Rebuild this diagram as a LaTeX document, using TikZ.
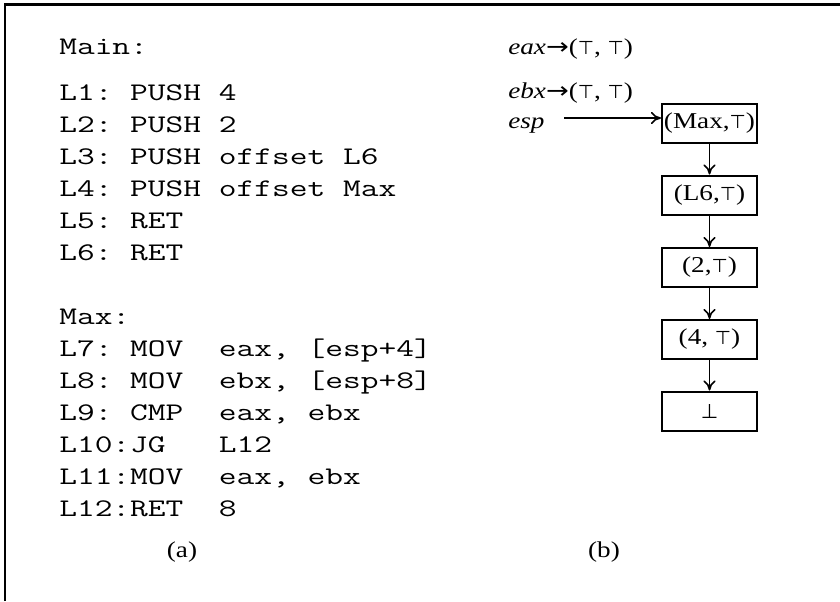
\documentclass[tikz,border=0pt]{standalone}
\usepackage{fontspec}
\usepackage{graphicx}
\setmainfont{Liberation Serif}[FakeStretch=1.2]
\newfontfamily\symfont{DejaVu Sans}
\usetikzlibrary{arrows.meta}

% lattice symbols and the mapping arrow
\newcommand{\topsym}{{\symfont\fontsize{14pt}{14pt}\selectfont ⊤}}
\newcommand{\botsym}{{\symfont\fontsize{15pt}{15pt}\selectfont ⊥}}
\newcommand{\mapsym}{{\symfont\scalebox{1.2}[1]{→}}}
% one line of the listing, in a widened typewriter face
\newcommand{\codeline}[1]{\scalebox{1.36}[1]{\ttfamily\fontsize{19pt}{20pt}\selectfont #1}}

\begin{document}
\begin{tikzpicture}[x=0.75pt,y=-0.75pt,
  code/.style={anchor=base west,inner sep=0pt},
  txt/.style={inner sep=0pt,font=\fontsize{17pt}{18pt}\selectfont},
  stackbox/.style={draw,line width=1.5pt,minimum width=71.25pt,
    minimum height=29.25pt,inner sep=0pt,
    font=\fontsize{17pt}{18pt}\selectfont},
  link/.style={line width=1.2pt,-{To[length=7.5pt,width=9pt]}},
]
\useasboundingbox (0,0) rectangle (840,601);

% frame
\draw[line width=1.9pt] (5,601) -- (5,4.3) -- (840,4.3);

% (a) program listing
\node[code] (main) at (59,54) {\codeline{Main:}};
\node[code] (l1)  at (59,100) {\codeline{L1:~PUSH~4}};
\node[code] (l2)  at (59,132) {\codeline{L2:~PUSH~2}};
\node[code] (l3)  at (59,164) {\codeline{L3:~PUSH~offset~L6}};
\node[code] (l4)  at (59,196) {\codeline{L4:~PUSH~offset~Max}};
\node[code] (l5)  at (59,228) {\codeline{L5:~RET}};
\node[code] (l6)  at (59,260) {\codeline{L6:~RET}};
\node[code] (max) at (59,324) {\codeline{Max:}};
\node[code] (l7)  at (59,356) {\codeline{L7:~MOV~~eax,~[esp+4]}};
\node[code] (l8)  at (59,388) {\codeline{L8:~MOV~~ebx,~[esp+8]}};
\node[code] (l9)  at (59,420) {\codeline{L9:~CMP~~eax,~ebx}};
\node[code] (l10) at (59,452) {\codeline{L10:JG~~~L12}};
\node[code] (l11) at (59,484) {\codeline{L11:MOV~~eax,~ebx}};
\node[code] (l12) at (59,516) {\codeline{L12:RET~~8}};
\node[txt,anchor=base] (capa) at (182,557) {(a)};

% (b) register values and stack
\node[txt,anchor=base west] (eax) at (508,54) {\textit{eax}\mapsym(\topsym, \topsym)};
\node[txt,anchor=base west] (ebx) at (508,98) {\textit{ebx}\mapsym(\topsym, \topsym)};
\node[txt,anchor=base west] (esp) at (508,128) {\textit{esp}};
\coordinate (espout) at (564,118);

\node[stackbox] (s1) at (709.5,123.5) {\raisebox{-5pt}{(Max,\topsym)}};
\node[stackbox] (s2) at (709.5,195)   {\raisebox{-2pt}{(L6,\topsym)}};
\node[stackbox] (s3) at (709.5,267.5) {\raisebox{-3pt}{(2,\topsym)}};
\node[stackbox] (s4) at (709.5,339.5) {\raisebox{-3pt}{(4, \topsym)}};
\node[stackbox] (s5) at (709.5,411)   {\botsym};

\draw[link] (espout) -- (s1.west |- espout);
\draw[link] (s1) -- (s2);
\draw[link] (s2) -- (s3);
\draw[link] (s3) -- (s4);
\draw[link] (s4) -- (s5);

\node[txt,anchor=base] (capb) at (604,557) {(b)};
\end{tikzpicture}
\end{document}
